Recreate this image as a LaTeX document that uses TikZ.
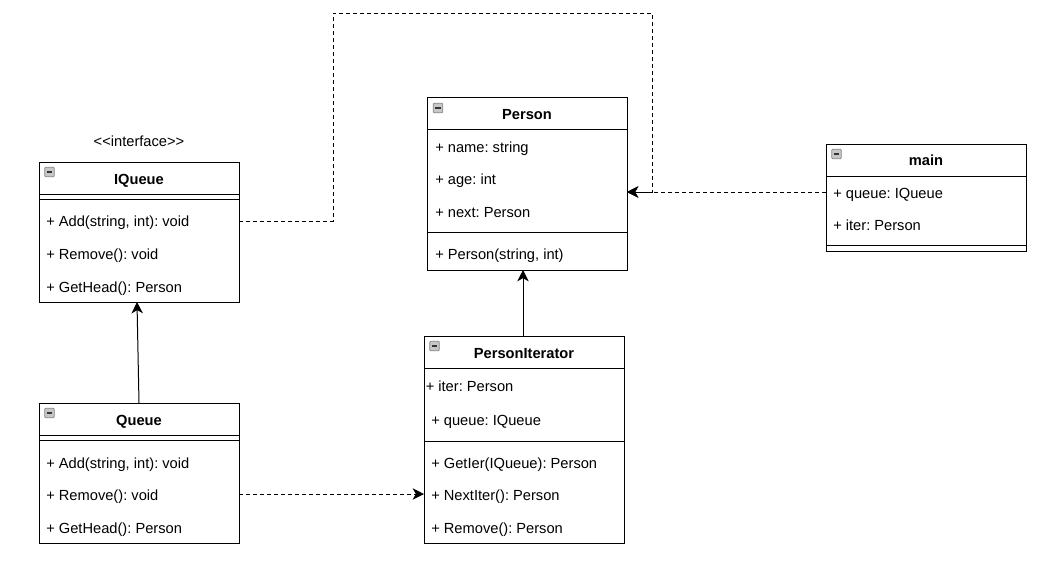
\documentclass[tikz,border=0pt]{standalone}
\usepackage{fontspec}
\setmainfont{Liberation Sans}
\usetikzlibrary{arrows.meta}
\begin{document}
\frenchspacing
\begin{tikzpicture}[x=0.75pt,y=-0.75pt,
  font=\fontsize{11pt}{13pt}\selectfont\frenchspacing,
  classbox/.style={draw=black, line width=0.75pt, inner sep=0pt, outer sep=0pt, anchor=north west, minimum width=150pt},
  title/.style={font=\fontsize{11pt}{13pt}\selectfont\bfseries, anchor=base, inner sep=0pt},
  row/.style={anchor=base west, inner sep=0pt},
  sepline/.style={line width=0.75pt},
  icon/.style={draw=black!50, fill=black!22, line width=0.55pt, rounded corners=0.6pt, minimum size=7pt, inner sep=0pt,
    path picture={\draw[black!80, line width=0.8pt] ([xshift=1.3pt]path picture bounding box.west) -- ([xshift=-1.3pt]path picture bounding box.east);}},
  umlarrow/.style={-{Stealth[length=8.5pt,width=8.5pt,inset=2.4pt]}, line width=0.75pt},
  dep/.style={umlarrow, dash pattern=on 3pt off 2.25pt}
]
\useasboundingbox (0,0) rectangle (1051,572);

% ---------- Person ----------
\node[classbox, minimum height=129.75pt] (person) at (427,97) {};
\draw[sepline] (person.west |- 0,129) -- (person.east |- 0,129);
\draw[sepline] (person.west |- 0,232) -- (person.east |- 0,232);
\node[icon] (person-icon) at (438,108) {};
\node[title] (person-title) at (527,119) {Person};
\node[row] (p-name) at (435,152.5) {+ name: string};
\node[row] (p-age)  at (435,184.5) {+ age: int};
\node[row] (p-next) at (435,217) {+ next: Person};
\node[row] (p-ctor) at (435,259.5) {+ Person(string, int)};

% ---------- IQueue ----------
\node[anchor=base, inner sep=0pt] (iq-stereo) at (139,146.5) {\textless\kern0pt\textless\kern0pt interface\kern0pt\textgreater\kern0pt\textgreater};
\node[classbox, minimum height=105pt] (iqueue) at (39,162) {};
\draw[sepline] (iqueue.west |- 0,194) -- (iqueue.east |- 0,194);
\draw[sepline] (iqueue.west |- 0,199) -- (iqueue.east |- 0,199);
\node[icon] (iq-icon) at (49.5,172) {};
\node[title] (iq-title) at (139,184) {IQueue};
\node[row] (iq-add) at (46,226.5) {+ Add(string, int): void};
\node[row] (iq-rem) at (46,259.5) {+ Remove(): void};
\node[row] (iq-head) at (46,292.5) {+ GetHead(): Person};

% ---------- Queue ----------
\node[classbox, minimum height=105pt] (queue) at (39,403) {};
\draw[sepline] (queue.west |- 0,435) -- (queue.east |- 0,435);
\draw[sepline] (queue.west |- 0,440) -- (queue.east |- 0,440);
\node[icon] (q-icon) at (49.5,413) {};
\node[title] (q-title) at (139,425) {Queue};
\node[row] (q-add) at (46,468.5) {+ Add(string, int): void};
\node[row] (q-rem) at (46,500.5) {+ Remove(): void};
\node[row] (q-head) at (46,533.5) {+ GetHead(): Person};

% ---------- PersonIterator ----------
\node[classbox, minimum height=155.25pt] (pit) at (424,336) {};
\draw[sepline] (pit.west |- 0,368) -- (pit.east |- 0,368);
\draw[sepline] (pit.west |- 0,441) -- (pit.east |- 0,441);
\node[icon] (pit-icon) at (434.5,346) {};
\node[title] (pit-title) at (524,358) {PersonIterator};
\node[row] (pit-iter) at (425.5,391.5) {+ iter: Person};
\node[row] (pit-queue) at (431,425.5) {+ queue: IQueue};
\node[row] (pit-get) at (431,468.5) {+ GetIer(IQueue): Person};
\node[row] (pit-next) at (431,500.5) {+ NextIter(): Person};
\node[row] (pit-rem) at (431,533.5) {+ Remove(): Person};

% ---------- main ----------
\node[classbox, minimum height=80.25pt] (main) at (826,144) {};
\draw[sepline] (main.west |- 0,176) -- (main.east |- 0,176);
\draw[sepline] (main.west |- 0,245) -- (main.east |- 0,245);
\node[icon] (main-icon) at (836.5,154) {};
\node[title] (main-title) at (926,165) {main};
\node[row] (m-queue) at (833,198.5) {+ queue: IQueue};
\node[row] (m-iter) at (833,230.5) {+ iter: Person};

% ---------- connectors ----------
\coordinate (lk1) at (0,192);
\coordinate (lk2) at (0,494);
\coordinate (lk3) at (0,221);
\coordinate (c1) at (333,13);
\coordinate (c2) at (652,13);
\coordinate (pitn) at ([xshift=-0.75pt]pit.north);

\draw[umlarrow] (queue.north) -- ([xshift=-1.5pt]iqueue.south);
\draw[umlarrow] (pitn) -- (person.south -| pitn);
\draw[dep] (queue.east |- lk2) -- (pit.west |- lk2);
\draw[dep] (main.west |- lk1) -- (person.east |- lk1);
\draw[dep] (iqueue.east |- lk3) -| (c1) -- (c2) |- (person.east |- lk1);
\end{tikzpicture}
\end{document}
